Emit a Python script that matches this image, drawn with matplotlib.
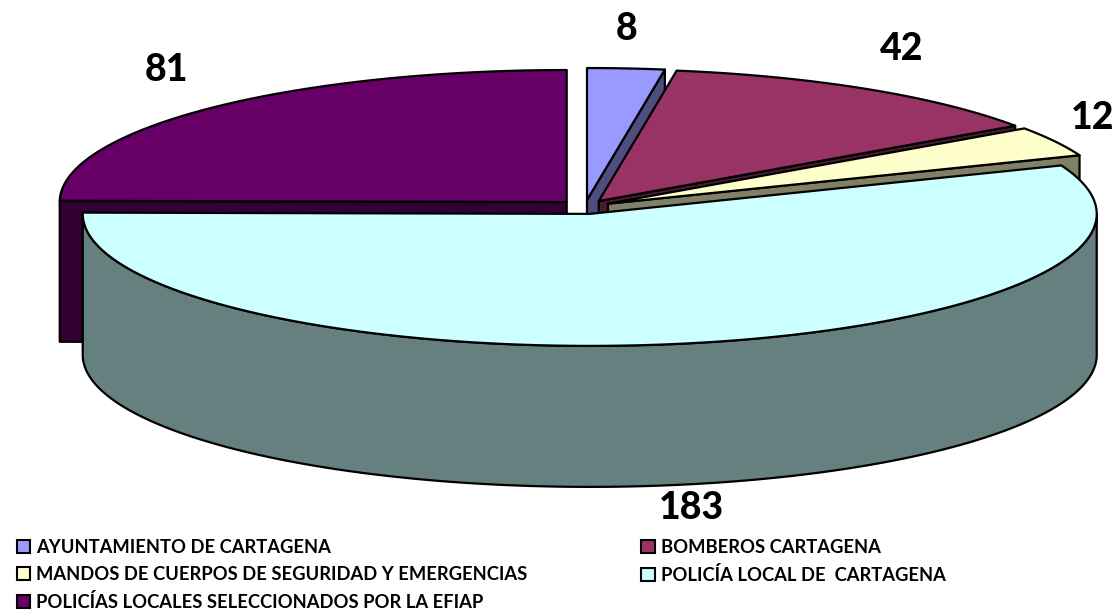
import numpy as np
import matplotlib
matplotlib.use("Agg")
import matplotlib.pyplot as plt
from matplotlib.patches import Polygon, Patch

# Datos
categorias = ['AYUNTAMIENTO DE CARTAGENA', 'BOMBEROS CARTAGENA',
              'MANDOS DE CUERPOS DE SEGURIDAD Y EMERGENCIAS',
              'POLICÍA LOCAL DE  CARTAGENA',
              'POLICÍAS LOCALES SELECCIONADOS POR LA EFIAP']
valores = [8, 42, 12, 183, 81]
colores = ['#9999FF', '#993366', '#FFFFCC', '#CCFFFF', '#660066']
laterales = ['#4D4D80', '#4D1A33', '#808066', '#668080', '#330033']

# Geometria de la tarta (en pixeles de la figura)
cx, cy = 585, 207
a, b = 507, 132
prof = 141
exp_x, exp_y = 26, 7
# desplazamiento de cada etiqueta respecto al borde de su porcion
etq_dx = [1, 34, 38, 9, -43]
etq_dy = [-39, -40, -23, 23, -38]
# orden de dibujo, de atras hacia delante
orden = [0, 4, 1, 2, 3]

plt.rcParams['font.family'] = ['Lato', 'DejaVu Sans']

fig = plt.figure(figsize=(11.18, 6.14), dpi=100)
ax = fig.add_axes([0, 0, 1, 1])
ax.set_xlim(0, 1118)
ax.set_ylim(614, 0)
ax.axis('off')

total = sum(valores)
fin = np.cumsum(valores) / total * 2 * np.pi
ini = np.concatenate([[0], fin[:-1]])

def borde(x0, y0, t):
    return np.column_stack([x0 + a * np.sin(t), y0 - b * np.cos(t)])

for i in orden:
    med = (ini[i] + fin[i]) / 2
    x0 = cx + exp_x * np.sin(med)
    y0 = cy - exp_y * np.cos(med)
    arco = borde(x0, y0, np.linspace(ini[i], fin[i], 200))
    vert = np.array([0, prof])
    apice = np.array([x0, y0])

    # caras radiales, solo las que se ven
    if fin[i] < np.pi:
        p = arco[-1]
        ax.add_patch(Polygon([apice, p, p + vert, apice + vert], fc=laterales[i],
                             ec='black', lw=1.6, joinstyle='round'))
    if ini[i] > np.pi:
        p = arco[0]
        ax.add_patch(Polygon([apice, p, p + vert, apice + vert], fc=laterales[i],
                             ec='black', lw=1.6, joinstyle='round'))
    # pared exterior (solo la mitad delantera)
    t0 = max(ini[i], np.pi / 2)
    t1 = min(fin[i], 3 * np.pi / 2)
    if t1 > t0:
        tramo = borde(x0, y0, np.linspace(t0, t1, 200))
        ax.add_patch(Polygon(np.vstack([tramo, tramo[::-1] + vert]), fc=laterales[i],
                             ec='black', lw=1.6, joinstyle='round'))
    # cara superior
    ax.add_patch(Polygon(np.vstack([apice, arco]), fc=colores[i], ec='black',
                         lw=1.6, joinstyle='round'))

    # etiqueta de datos
    p = borde(x0, y0, np.array([med]))[0]
    if np.cos(med) < 0:
        p = p + vert
    ax.text(p[0] + etq_dx[i], p[1] + etq_dy[i], str(valores[i]), fontsize=27,
            fontweight=900, color='black', ha='center', va='center')

# Leyenda (por columnas: primero las tres de la izquierda)
idx = [0, 2, 4, 1, 3]
handles = [Patch(fc=colores[i], ec='black', lw=1.5, label=categorias[i]) for i in idx]
fig.legend(handles=handles, ncol=2, loc='lower left', bbox_to_anchor=(0.0105, -0.004),
           frameon=False, prop={'weight': 'bold', 'size': 13.2},
           handlelength=0.72, handleheight=0.72, handletextpad=0.33,
           labelspacing=0.55, columnspacing=6.2, borderaxespad=0, borderpad=0.3)

fig.savefig('out.png', dpi=100, facecolor='white')
